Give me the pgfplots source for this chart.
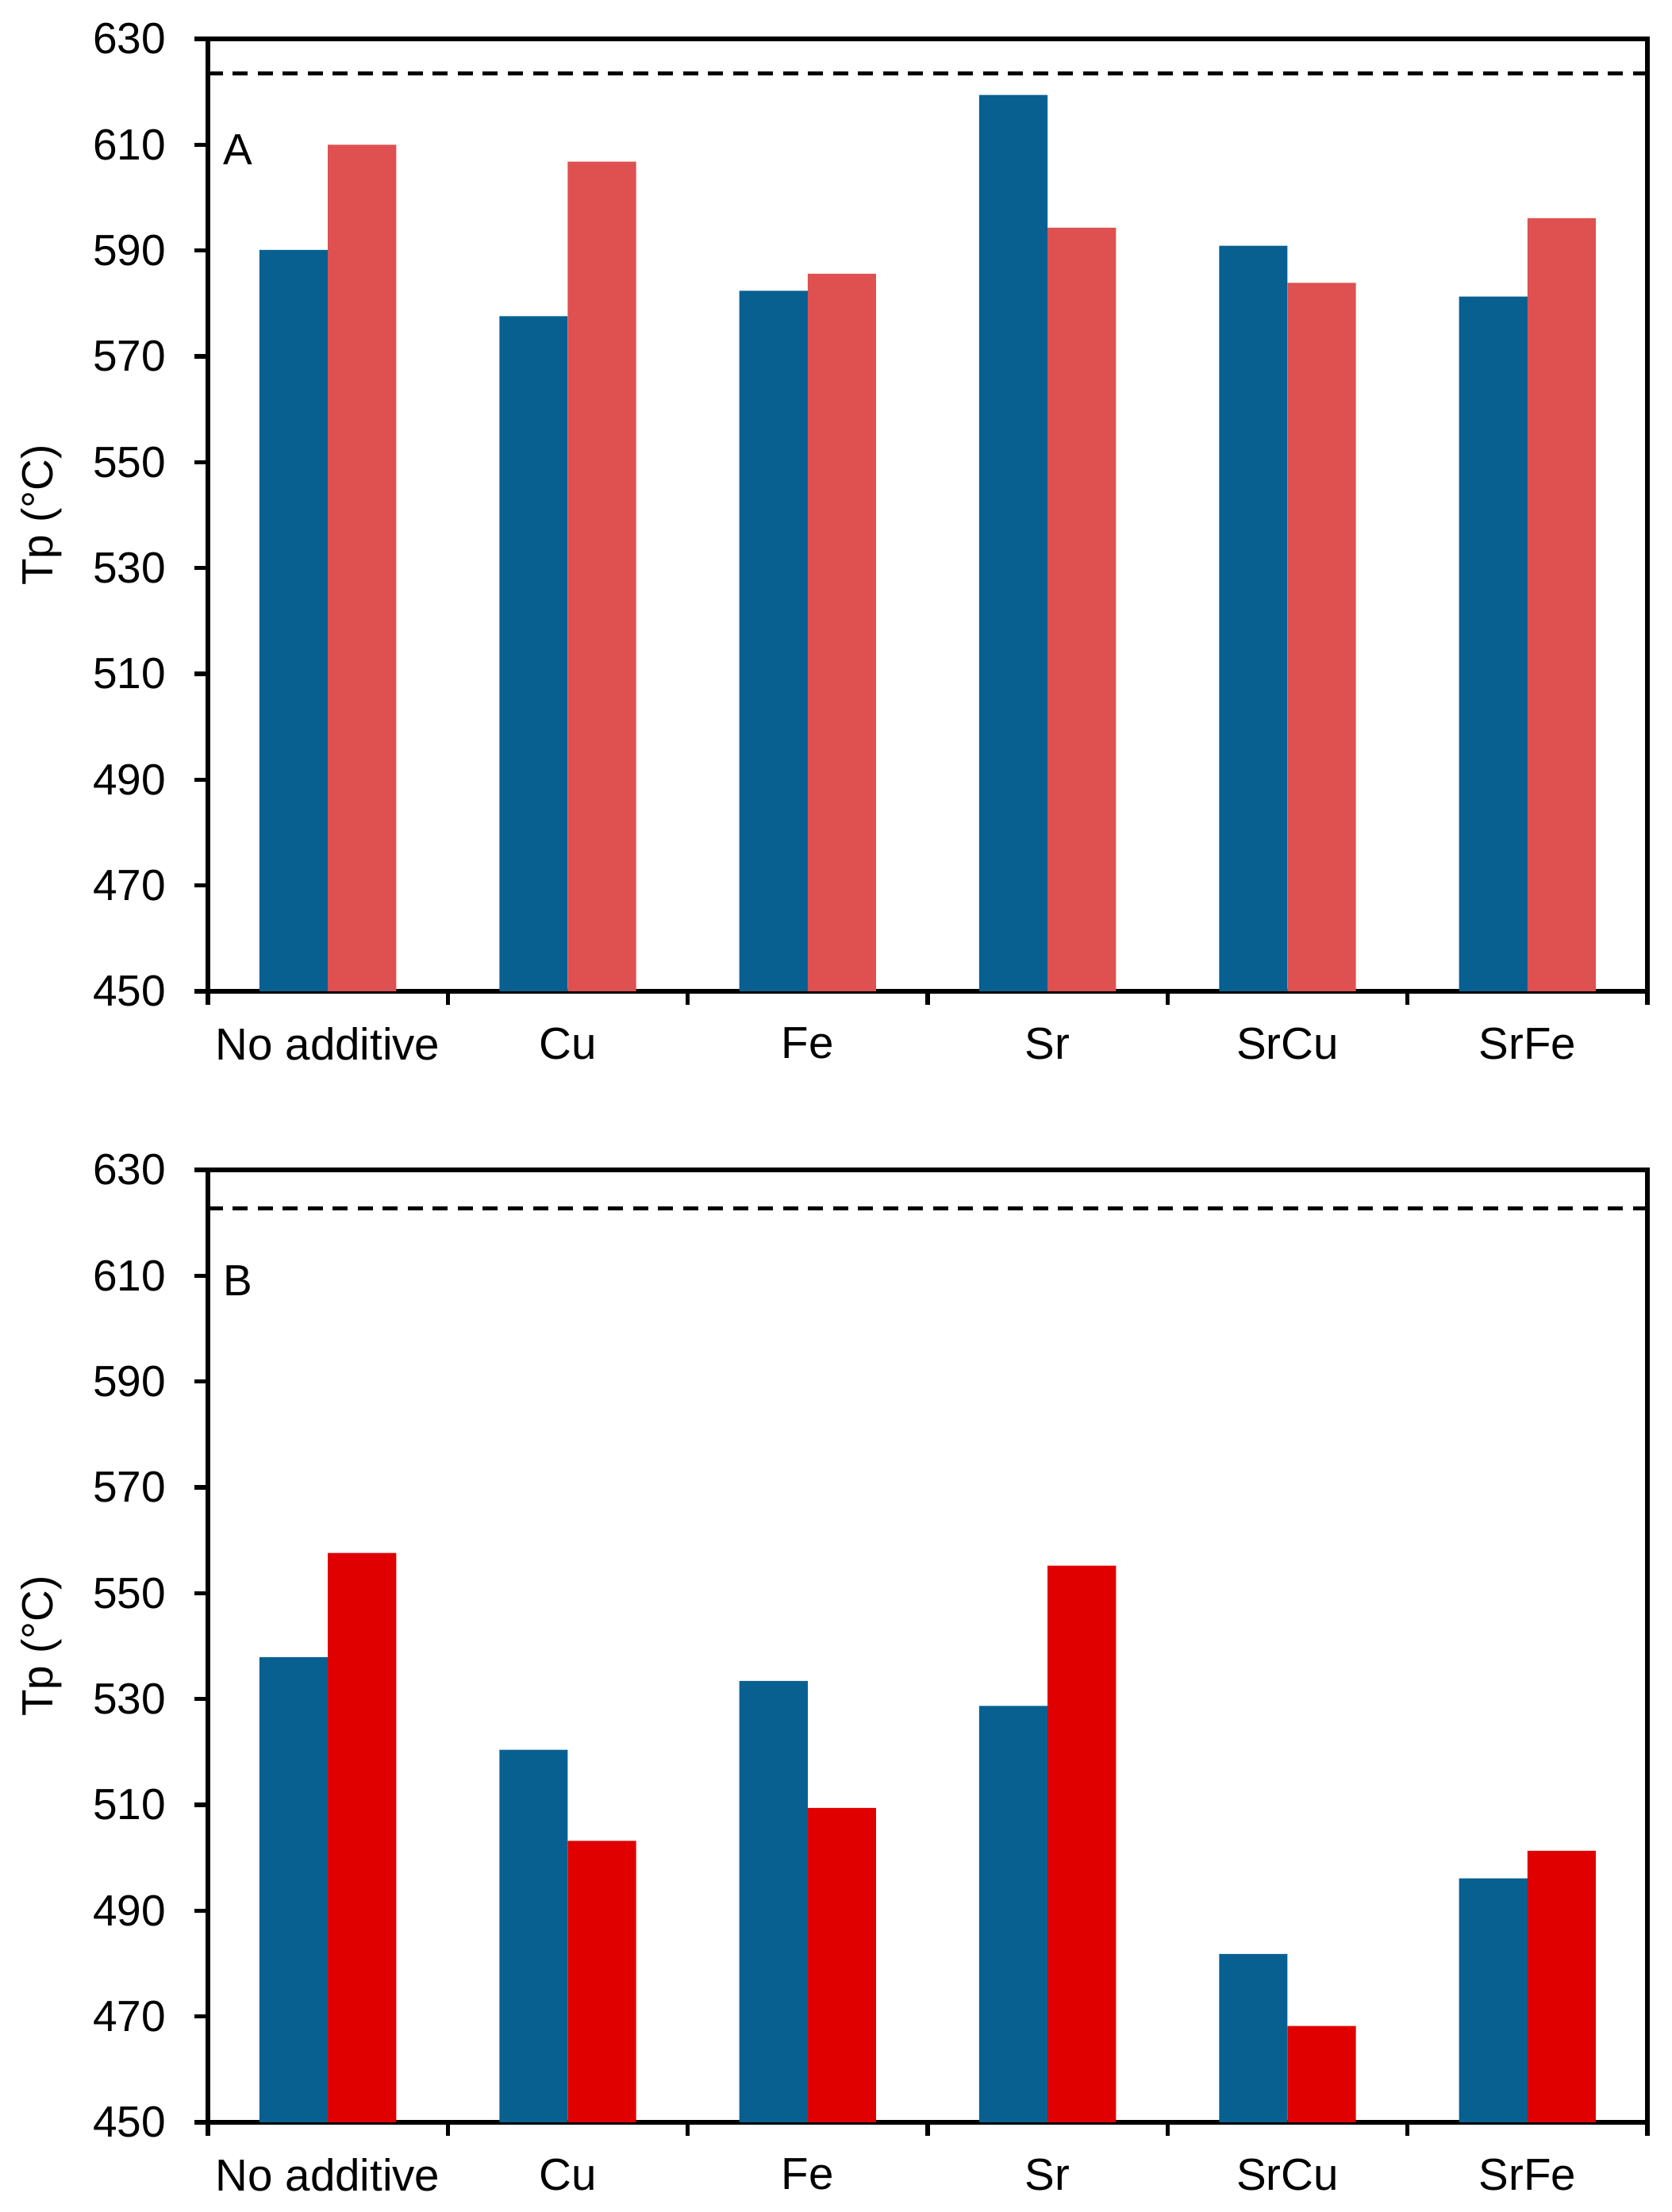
\documentclass[border=0pt]{standalone}
\usepackage{fontspec}
\setmainfont{Liberation Sans}
\usepackage{pgfplots}
\pgfplotsset{compat=1.18}

\definecolor{barblue}{RGB}{8,96,145}
\definecolor{barsalmon}{RGB}{222,81,80}
\definecolor{barred}{RGB}{224,0,0}
\newcommand{\lbl}{\fontsize{11pt}{13pt}\selectfont}
\newcommand{\xlbl}{\fontsize{11.3pt}{13pt}\selectfont}

\pgfplotsset{
  tpaxis/.style={
    scale only axis, width=362.8pt, height=240pt,
    xmin=0, xmax=6, ymin=450, ymax=630,
    ytick={450,470,...,630},
    xtick={0,...,6},
    xticklabels={No additive,Cu,Fe,Sr,SrCu,SrFe},
    x tick label as interval,
    xtick pos=bottom, ytick pos=left,
    tick align=outside, major tick length=3.4pt,
    every tick/.style={line width=1.1pt, black},
    axis line style={line width=1.3pt},
    /pgf/number format/assume math mode=true,
    yticklabel style={font=\lbl, anchor=east, inner sep=0pt, xshift=-7pt},
    xticklabel style={font=\xlbl, anchor=north, inner sep=0pt, yshift=-5.6pt},
    ylabel={Tp (°C)},
    every axis y label/.style={at={(axis description cs:-0.1158,0.5)}, rotate=90, anchor=center, font=\lbl},
    clip=true,
  },
  bluebar/.style={ybar, fill=barblue, draw=none, bar width=0.285, bar shift=-0.1425},
  redbar/.style={ybar, draw=none, bar width=0.285, bar shift=0.1425},
  refline/.style={sharp plot, no markers, black, line width=1pt, dash pattern=on 3.8pt off 2.5pt},
}

\begin{document}
\begin{tikzpicture}
% panel A
\begin{axis}[tpaxis, at={(0pt,285pt)}, anchor=south west]
\addplot[bluebar] coordinates {(0.5,590.1) (1.5,577.6) (2.5,582.4) (3.5,619.4) (4.5,590.9) (5.5,581.3)};
\addplot[redbar, fill=barsalmon] coordinates {(0.5,610.0) (1.5,606.8) (2.5,585.6) (3.5,594.3) (4.5,583.9) (5.5,596.1)};
\addplot[refline] coordinates {(0,623.4) (6,623.4)};
\node[anchor=base west, inner sep=0pt, font=\lbl] at (axis cs:0.06,606.2) {A};
\end{axis}
% panel B
\begin{axis}[tpaxis, at={(0pt,0pt)}, anchor=south west]
\addplot[bluebar] coordinates {(0.5,537.9) (1.5,520.4) (2.5,533.4) (3.5,528.7) (4.5,481.8) (5.5,496.1)};
\addplot[redbar, fill=barred] coordinates {(0.5,557.6) (1.5,503.2) (2.5,509.4) (3.5,555.2) (4.5,468.2) (5.5,501.3)};
\addplot[refline] coordinates {(0,622.7) (6,622.7)};
\node[anchor=base west, inner sep=0pt, font=\lbl] at (axis cs:0.06,606.2) {B};
\end{axis}
\pgfresetboundingbox
\path (-52.4pt,-22.6pt) rectangle (368.8pt,534.8pt);
\end{tikzpicture}
\end{document}
